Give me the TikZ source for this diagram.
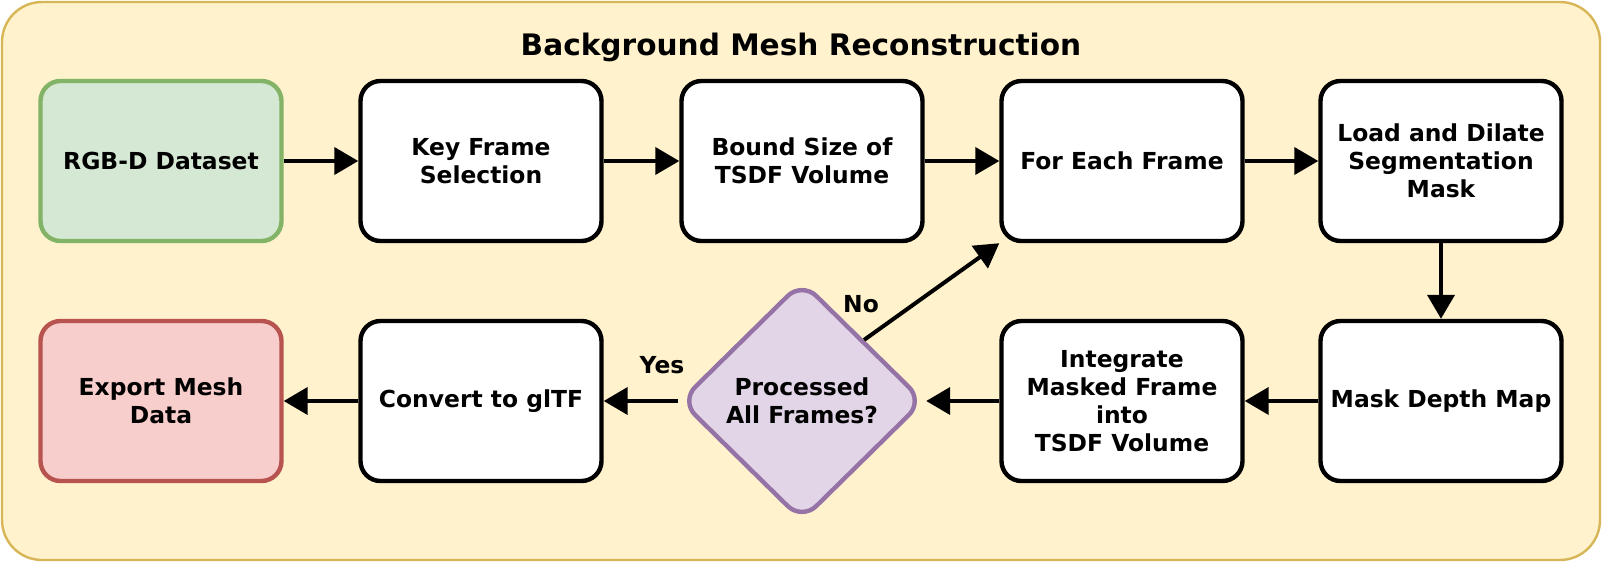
\documentclass[tikz,border=0pt]{standalone}
\usepackage{fontspec}
\setmainfont{DejaVu Sans}
\usepackage{tikz}
\usetikzlibrary{arrows.meta, shapes.geometric, calc}

\definecolor{frameFill}{HTML}{FFF2CC}
\definecolor{frameLine}{HTML}{D6B656}
\definecolor{startFill}{HTML}{D5E8D4}
\definecolor{startLine}{HTML}{82B366}
\definecolor{endFill}{HTML}{F8CECC}
\definecolor{endLine}{HTML}{B85450}
\definecolor{testFill}{HTML}{E1D5E7}
\definecolor{testLine}{HTML}{9673A6}

\newcommand{\boxfont}{\bfseries\fontsize{11.7}{14}\selectfont}
\newcommand{\titlefont}{\bfseries\fontsize{14.8}{18}\selectfont}

\tikzset{
  stepbox/.style={draw=black, fill=white, line width=2.2pt, rounded corners=10pt,
    minimum width=120.5pt, minimum height=80pt, align=center, font=\boxfont},
  startbox/.style={stepbox, draw=startLine, fill=startFill},
  endbox/.style={stepbox, draw=endLine, fill=endFill},
  testbox/.style={diamond, draw=testLine, fill=testFill, line width=2.2pt, rounded corners=10pt,
    minimum width=122pt, minimum height=120pt, align=center, inner sep=0pt, font=\boxfont},
  flow/.style={line width=2pt, -{Triangle[length=12pt, width=13.5pt]}},
}

\begin{document}
\begin{tikzpicture}[x=0.5pt, y=-0.5pt]

%%Paramaters
%% row heights and column places, in pixels of the picture
\def\rowA{161}
\def\rowB{401}

\useasboundingbox (0,0) rectangle (1602,562);
\draw[fill=frameFill, draw=frameLine, line width=1.2pt, rounded corners=20pt] (2,2) rectangle (1600,560);

\node[font=\titlefont] (title) at (801,47) {Background Mesh Reconstruction};

    %% first row
    \node[startbox] (rgbd) at (161,\rowA) {RGB-D Dataset};
    \node[stepbox] (keyframe) at (481,\rowA) {Key Frame\\Selection};
    \node[stepbox] (bound) at (802,\rowA) {Bound Size of\\TSDF Volume};
    \node[stepbox] (foreach) at (1122,\rowA) {For Each Frame};
    \node[stepbox] (loadmask) at (1441,\rowA) {Load and Dilate\\Segmentation\\Mask};

    %% second row
    \node[endbox] (export) at (161,\rowB) {Export Mesh\\Data};
    \node[stepbox] (gltf) at (481,\rowB) {Convert to glTF};
    \node[testbox] (processed) at (802,\rowB) {Processed\\All Frames?};
    \node[stepbox] (integrate) at (1122,\rowB) {Integrate\\Masked Frame\\into\\TSDF Volume};
    \node[stepbox] (depthmap) at (1441,\rowB) {Mask Depth Map};

    %% connectors
    \draw[flow] (rgbd) -- (keyframe);
    \draw[flow] (keyframe) -- (bound);
    \draw[flow] (bound) -- (foreach);
    \draw[flow] (foreach) -- (loadmask);
    \draw[flow] (loadmask) -- (depthmap);
    \draw[flow] (depthmap) -- (integrate);
    \draw[flow] (integrate) -- (processed);
    \draw[flow] (processed) -- (gltf);
    \draw[flow] (gltf) -- (export);
    \draw[flow] (processed.north east) -- (foreach.south west);

    \node[font=\boxfont] (yes) at (662,365) {Yes};
    \node[font=\boxfont] (no) at (861,304) {No};

\end{tikzpicture}
\end{document}
